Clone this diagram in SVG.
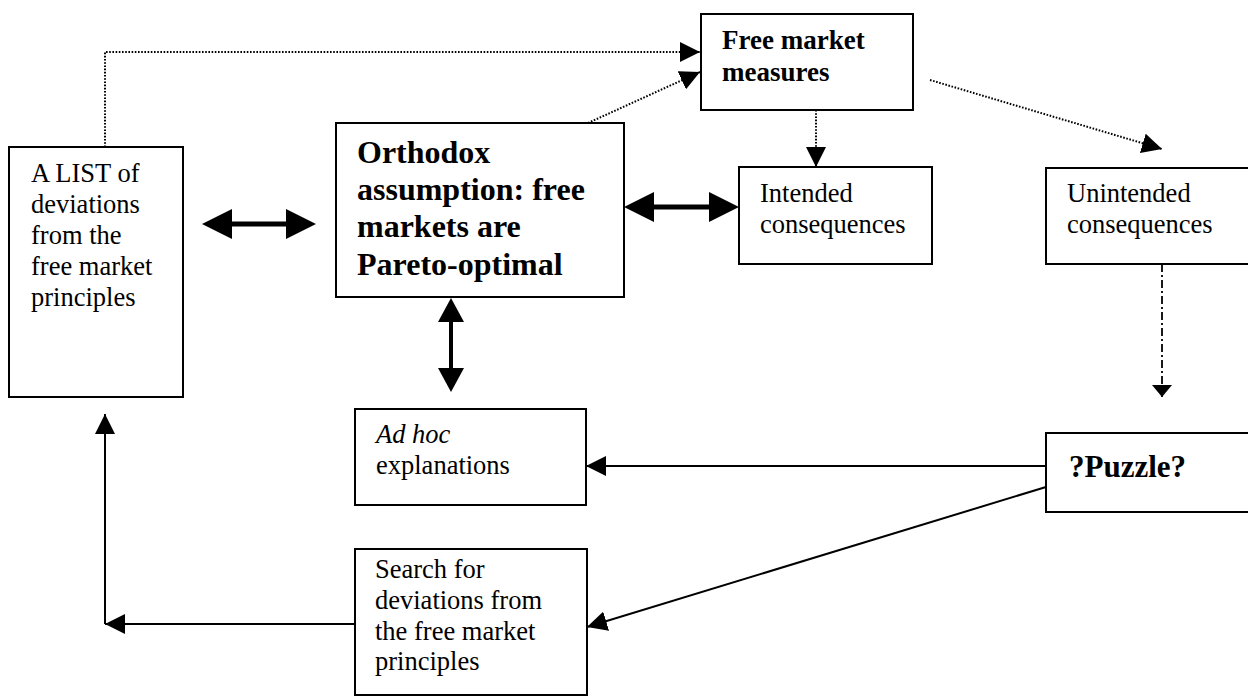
<svg xmlns="http://www.w3.org/2000/svg" width="1248" height="697" viewBox="0 0 1248 697">
<style>
.box{fill:#fff;stroke:#000;stroke-width:2}
.t{font-family:"Liberation Serif","Times New Roman",serif;font-size:26.5px;fill:#000}
.b{font-weight:bold}
.dot{fill:none;stroke:#000;stroke-width:2;stroke-dasharray:1.6 1.6}
.dd{fill:none;stroke:#000;stroke-width:1.8;stroke-dasharray:8 3 2 3}
.sol{fill:none;stroke:#000;stroke-width:2}
.thick{fill:none;stroke:#000;stroke-width:5}
.mid{fill:none;stroke:#000;stroke-width:4}
</style>
<defs>
<marker id="ah" markerUnits="userSpaceOnUse" markerWidth="22" markerHeight="20" refX="20" refY="10" orient="auto"><path d="M0,0 L20,10 L0,20 z" fill="#000"/></marker>
<marker id="ahs" markerUnits="userSpaceOnUse" markerWidth="14" markerHeight="20" refX="12" refY="10" orient="auto"><path d="M0,0 L12,10 L0,20 z" fill="#000"/></marker>
<marker id="big" markerUnits="userSpaceOnUse" markerWidth="31" markerHeight="31" refX="0" refY="15" orient="auto-start-reverse"><path d="M0,0 L30,15 L0,30 z" fill="#000"/></marker>
<marker id="medm" markerUnits="userSpaceOnUse" markerWidth="25" markerHeight="27" refX="0" refY="13" orient="auto-start-reverse"><path d="M0,0 L24,13 L0,26 z" fill="#000"/></marker>
</defs>
<g id="connectors">
<polyline class="dot" points="105,147 105,52 700,52" marker-end="url(#ah)"/>
<line class="dot" x1="588" y1="123" x2="700" y2="72" marker-end="url(#ah)"/>
<line class="dot" x1="816" y1="110" x2="816" y2="167" marker-end="url(#ah)"/>
<line class="dot" x1="930" y1="80" x2="1162" y2="149" marker-end="url(#ah)"/>
<line class="dd" x1="1162" y1="264" x2="1162" y2="397" marker-end="url(#ahs)"/>
<line class="thick" x1="232" y1="224" x2="286" y2="224" marker-start="url(#big)" marker-end="url(#big)"/>
<line class="thick" x1="654" y1="207" x2="709" y2="207" marker-start="url(#big)" marker-end="url(#big)"/>
<line class="mid" x1="451" y1="322" x2="451" y2="368" marker-start="url(#medm)" marker-end="url(#medm)"/>
<line class="sol" x1="1046" y1="466" x2="586" y2="466" marker-end="url(#ah)"/>
<line class="sol" x1="1046" y1="487" x2="587" y2="627" marker-end="url(#ah)"/>
<line class="sol" x1="355" y1="624" x2="105" y2="624" marker-end="url(#ah)"/>
<line class="sol" x1="105" y1="624" x2="105" y2="414" marker-end="url(#ah)"/>
</g>
<g id="list">
<rect class="box" x="9" y="147" width="174" height="250"/>
<text class="t"><tspan x="31" y="182">A LIST of</tspan><tspan x="31" y="213">deviations</tspan><tspan x="31" y="244">from the</tspan><tspan x="31" y="275">free market</tspan><tspan x="31" y="306">principles</tspan></text>
</g>
<g id="orthodox">
<rect class="box" x="336" y="123" width="288" height="174"/>
<text class="t b" style="font-size:32px"><tspan x="357" y="163">Orthodox</tspan><tspan x="357" y="200">assumption: free</tspan><tspan x="357" y="237">markets are</tspan><tspan x="357" y="275">Pareto-optimal</tspan></text>
</g>
<g id="freemarket">
<rect class="box" x="701" y="14" width="212" height="96"/>
<text class="t b" style="font-size:27px"><tspan x="722" y="49">Free market</tspan><tspan x="722" y="81">measures</tspan></text>
</g>
<g id="intended">
<rect class="box" x="739" y="167" width="193" height="97"/>
<text class="t"><tspan x="760" y="202">Intended</tspan><tspan x="760" y="233">consequences</tspan></text>
</g>
<g id="unintended">
<rect class="box" x="1046" y="168" width="210" height="96"/>
<text class="t"><tspan x="1067" y="202">Unintended</tspan><tspan x="1067" y="233">consequences</tspan></text>
</g>
<g id="adhoc">
<rect class="box" x="355" y="409" width="231" height="96"/>
<text class="t"><tspan x="376" y="443" font-style="italic">Ad hoc</tspan><tspan x="376" y="474">explanations</tspan></text>
</g>
<g id="puzzle">
<rect class="box" x="1046" y="433" width="210" height="79"/>
<text class="t b" x="1069" y="477" style="font-size:31px">?Puzzle?</text>
</g>
<g id="search">
<rect class="box" x="355" y="549" width="232" height="146"/>
<text class="t"><tspan x="375" y="578">Search for</tspan><tspan x="375" y="609">deviations from</tspan><tspan x="375" y="640">the free market</tspan><tspan x="375" y="670">principles</tspan></text>
</g>
</svg>
